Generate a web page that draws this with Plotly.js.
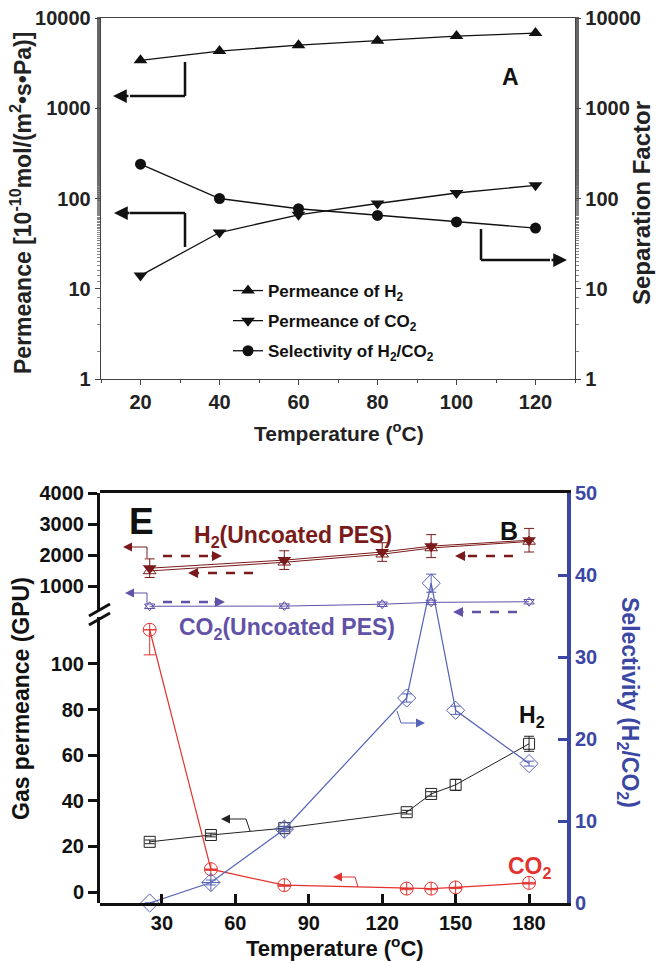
<!DOCTYPE html>
<html><head><meta charset="utf-8">
<script src="https://cdn.plot.ly/plotly-3.0.1.min.js"></script>
<style>html,body{margin:0;padding:0;background:#fff}</style>
</head><body><div id="chart" style="width:657px;height:963px"></div>
<script>
// ---------- Panel A data ----------
const tempA = [20, 40, 60, 80, 100, 120];
const permH2A = [3400, 4300, 5000, 5600, 6300, 6800];
const permCO2A = [14, 42, 66, 88, 115, 140];
const selA = [240, 100, 77, 65, 55, 47];
const logTickVals = [1, 10, 100, 1000, 10000];
const logTickText = ['1', '10', '100', '1000', '10000'];
const tempTicksA = [20, 40, 60, 80, 100, 120];

// ---------- Panel B data ----------
const tempB = [25, 50, 80, 130, 140, 150, 180];
const h2Coated = [22, 25, 28, 35, 43, 47, 65];
const h2CoatedErr = [0.8, 0.8, 0.8, 0.8, 1, 2.4, 3.3];
const co2Coated = [115, 10, 3, 1.5, 1.5, 2, 4];
const co2CoatedErrMinus = [11, 0.5, 0.5, 0.5, 0.5, 0.5, 0.5];
const selB = [0, 2.5, 9, 25, 39, 23.5, 17];
const selBErr = [0, 0.3, 0.3, 0.5, 1.1, 0.5, 0.3];
const tempUncoated = [25, 80, 120, 140, 180];
const h2Uncoated = [1580, 1840, 2100, 2290, 2480];
const h2UncoatedRepeat = [1490, 1770, 2030, 2230, 2440];
const h2UncoatedErr = [300, 300, 300, 370, 380];
const co2Uncoated = [355, 360, 420, 480, 500];
const tempTicksB = [30, 60, 90, 120, 150, 180];
const lowTicks = [0, 20, 40, 60, 80, 100];
const highTicks = [1000, 2000, 3000, 4000];
const selTicks = [0, 10, 20, 30, 40, 50];

// ---------- helpers (pixel -> paper) ----------
const W = 657, H = 963;
const X = p => p / W;
const Y = p => 1 - p / H;
const FONT = 'Arial, "Liberation Sans", sans-serif';
const DR = '#7a1a1a', BL = '#3b47a3', SB = '#5563b8', RD = '#e2332f', PU = '#6152a8';

const traces = [
  // Panel A
  {x: tempA, y: permH2A, xaxis: 'x', yaxis: 'y', mode: 'lines+markers', name: 'Permeance of H<sub>2</sub>',
   legendgroup: 'a', line: {color: '#111', width: 1.3}, marker: {symbol: 'triangle-up', size: 12, color: '#111'}},
  {x: tempA, y: permCO2A, xaxis: 'x', yaxis: 'y', mode: 'lines+markers', name: 'Permeance of CO<sub>2</sub>',
   legendgroup: 'b', line: {color: '#111', width: 1.3}, marker: {symbol: 'triangle-down', size: 12, color: '#111'}},
  {x: tempA, y: selA, xaxis: 'x', yaxis: 'y2', mode: 'lines+markers', name: 'Selectivity of H<sub>2</sub>/CO<sub>2</sub>',
   legendgroup: 'c', line: {color: '#111', width: 1.3}, marker: {symbol: 'circle', size: 11, color: '#111'}},
  // Panel B upper segment
  {x: tempUncoated, y: h2UncoatedRepeat, xaxis: 'x2', yaxis: 'y4', mode: 'lines+markers', showlegend: false,
   line: {color: DR, width: 1}, marker: {symbol: 'triangle-up-open', size: 11, color: DR, line: {width: 1}}},
  {x: tempUncoated, y: h2Uncoated, xaxis: 'x2', yaxis: 'y4', mode: 'lines+markers', showlegend: false,
   line: {color: DR, width: 1}, marker: {symbol: 'triangle-down', size: 12, color: DR},
   error_y: {type: 'data', array: h2UncoatedErr, color: DR, thickness: 1, width: 5}},
  {x: tempUncoated, y: co2Uncoated, xaxis: 'x2', yaxis: 'y4', mode: 'markers', showlegend: false,
   marker: {symbol: 'triangle-down-open', size: 9, color: PU, line: {width: 1}}},
  {x: tempUncoated, y: co2Uncoated, xaxis: 'x2', yaxis: 'y4', mode: 'lines+markers', showlegend: false,
   line: {color: PU, width: 1}, marker: {symbol: 'triangle-up-open', size: 9, color: PU, line: {width: 1}}},
  // Panel B lower segment
  {x: tempB, y: h2Coated, xaxis: 'x2', yaxis: 'y3', mode: 'lines+markers', showlegend: false, cliponaxis: false,
   line: {color: '#222', width: 1}, marker: {symbol: 'square-open', size: 11, color: '#222', line: {width: 1}},
   error_y: {type: 'data', array: h2CoatedErr, color: '#222', thickness: 1, width: 5}},
  {x: tempB, y: co2Coated, xaxis: 'x2', yaxis: 'y3', mode: 'lines+markers', showlegend: false, cliponaxis: false,
   line: {color: RD, width: 1.2}, marker: {symbol: 'circle-cross-open', size: 13, color: RD, line: {width: 1}},
   error_y: {type: 'data', symmetric: false, array: [0, 0, 0, 0, 0, 0, 0], arrayminus: co2CoatedErrMinus, color: RD, thickness: 1, width: 6}},
  // Panel B selectivity (right axis)
  {x: tempB, y: selB, xaxis: 'x2', yaxis: 'y5', mode: 'lines+markers', showlegend: false, cliponaxis: false,
   line: {color: SB, width: 1.2},
   marker: {symbol: ['diamond-open', 'diamond-cross-open', 'diamond-cross-open', 'diamond-open', 'diamond-open', 'diamond-open', 'diamond-open'],
            size: 14, color: SB, line: {width: 1}},
   error_y: {type: 'data', array: selBErr, color: SB, thickness: 1, width: 5}}
];

const tickFontA = {family: FONT, size: 20, color: '#222', weight: 'bold'};
const tickFontB = {family: FONT, size: 20, color: '#111', weight: 'bold'};

const shapes = [];
const annotations = [];
function seg(x0, y0, x1, y1, color, width, dash) {
  shapes.push({type: 'line', xref: 'paper', yref: 'paper', x0: X(x0), y0: Y(y0), x1: X(x1), y1: Y(y1),
    line: {color: color, width: width, dash: dash || 'solid'}});
}
function head(tx, ty, fx, fy, color, width, size) {
  annotations.push({xref: 'paper', yref: 'paper', x: X(tx), y: Y(ty), ax: fx - tx, ay: fy - ty, axref: 'pixel', ayref: 'pixel',
    text: '', showarrow: true, arrowhead: 2, arrowsize: size || 1, arrowwidth: width, arrowcolor: color});
}
function label(px, py, text, size, color, angle, anchor) {
  annotations.push({xref: 'paper', yref: 'paper', x: X(px), y: Y(py), text: text, showarrow: false,
    textangle: angle || 0, xanchor: anchor || 'center', yanchor: 'middle',
    font: {family: FONT, size: size, color: color, weight: 'bold'}});
}

// Panel A arrows
seg(185, 62, 185, 96, '#111', 2.5); seg(185, 96, 130, 96, '#111', 2.5); head(113, 96, 130, 96, '#111', 2.5, 1.1);
seg(185, 247, 185, 213, '#111', 2.5); seg(185, 213, 130, 213, '#111', 2.5); head(114, 213, 131, 213, '#111', 2.5, 1.1);
seg(481, 229, 481, 260, '#111', 2.5); seg(481, 260, 550, 260, '#111', 2.5); head(567, 260, 550, 260, '#111', 2.5, 1.1);

// Panel B arrows
seg(147, 558, 147, 547, DR, 1); seg(147, 547, 132, 547, DR, 1); head(123, 547, 133, 547, DR, 1.5, 1.2);
seg(163, 556, 212, 556, DR, 2.5, 'dash'); head(222, 556, 210, 556, DR, 2, 1);
seg(253, 573, 198, 573, DR, 2.5, 'dash'); head(188, 573, 200, 573, DR, 2, 1);
seg(513, 556, 465, 556, DR, 2.5, 'dash'); head(455, 556, 467, 556, DR, 2, 1);
seg(147, 604, 147, 593, PU, 1); seg(147, 593, 134, 593, PU, 1); head(125, 593, 135, 593, PU, 1.5, 1.2);
seg(163, 602, 215, 602, PU, 2.5, 'dash'); head(225, 602, 213, 602, PU, 2, 1);
seg(517, 612, 463, 612, PU, 2.5, 'dash'); head(453, 612, 465, 612, PU, 2, 1);
seg(250, 831, 246, 819, '#222', 1); seg(246, 819, 230, 819, '#222', 1); head(221, 819, 231, 819, '#222', 1.5, 1.2);
seg(397, 711, 401, 723, SB, 1); seg(401, 723, 415, 723, SB, 1); head(425, 723, 414, 723, SB, 1.5, 1.2);
seg(358, 887, 355, 877, RD, 1); seg(355, 877, 342, 877, RD, 1); head(333, 877, 343, 877, RD, 1.5, 1.2);

// axis break
seg(89, 616, 110, 604, '#111', 3); seg(89, 625, 110, 613, '#111', 3);

// Text labels
label(510, 77, 'A', 23, '#111');
label(21, 203, 'Permeance [10<sup>-10</sup>mol/(m<sup>2</sup>•s•Pa)]', 23, '#222', -90);
label(641, 203, 'Separation Factor', 24, '#222', -90);
label(339, 432, 'Temperature (<sup>o</sup>C)', 21, '#222');
label(141, 521, 'E', 37, '#111');
label(509, 531, 'B', 25, '#111');
label(192, 536, 'H<sub>2</sub>(Uncoated PES)', 23, DR, 0, 'left');
label(177, 628, 'CO<sub>2</sub>(Uncoated PES)', 23, PU, 0, 'left');
label(517, 716, 'H<sub>2</sub>', 23, '#111', 0, 'left');
label(506, 867, 'CO<sub>2</sub>', 23, RD, 0, 'left');
label(21, 699, 'Gas permeance (GPU)', 23, '#111', -90);
label(629, 702, 'Selectivity (H<sub>2</sub>/CO<sub>2</sub>)', 23, BL, 90);
label(335, 947, 'Temperature (<sup>o</sup>C)', 22, '#111');

const layout = {
  width: W, height: H, margin: {l: 0, r: 0, t: 0, b: 0},
  paper_bgcolor: '#fff', plot_bgcolor: 'rgba(0,0,0,0)',
  font: {family: FONT},
  showlegend: true,
  legend: {x: X(228), y: Y(273), xanchor: 'left', yanchor: 'top', bgcolor: 'rgba(0,0,0,0)',
           font: {family: FONT, size: 17, color: '#111', weight: 'bold'}, tracegroupgap: 5, itemwidth: 30},
  // Panel A
  xaxis: {domain: [X(101), X(575)], range: [10, 130], anchor: 'y', tickvals: tempTicksA, ticks: 'outside', ticklen: 5,
          tickcolor: '#444', showline: true, linecolor: '#444', linewidth: 1.3, mirror: true, showgrid: false, zeroline: false,
          tickfont: tickFontA, minor: {dtick: 10, tick0: 10, ticks: 'outside', ticklen: 3, tickcolor: '#444'}},
  yaxis: {domain: [Y(379), Y(18)], type: 'log', range: [0, 4], anchor: 'x', tickvals: logTickVals, ticktext: logTickText,
          ticks: 'outside', ticklen: 5, tickcolor: '#444', showline: true, linecolor: '#444', linewidth: 1.3, showgrid: false,
          zeroline: false, tickfont: tickFontA, minor: {ticks: 'outside', ticklen: 3, tickcolor: '#666', tickwidth: 0.8}},
  yaxis2: {type: 'log', range: [0, 4], overlaying: 'y', side: 'right', anchor: 'x', tickvals: logTickVals, ticktext: logTickText,
          ticks: 'outside', ticklen: 5, tickcolor: '#444', showline: true, linecolor: '#444', linewidth: 1.3, showgrid: false,
          zeroline: false, tickfont: tickFontA, minor: {ticks: 'outside', ticklen: 3, tickcolor: '#666', tickwidth: 0.8}},
  // Panel B
  xaxis2: {domain: [X(100), X(567)], range: [4.7, 195.5], anchor: 'y5', tickvals: tempTicksB, ticks: 'inside', ticklen: 9,
          tickwidth: 3, tickcolor: '#111', showline: true, linecolor: '#111', linewidth: 3, mirror: true, showgrid: false,
          zeroline: false, tickfont: tickFontB},
  yaxis3: {domain: [Y(903), Y(617)], range: [-4.82, 120.6], anchor: 'x2', tickvals: lowTicks, ticks: 'outside', ticklen: 9,
          tickwidth: 3, tickcolor: '#111', showline: true, linecolor: '#111', linewidth: 3, showgrid: false, zeroline: false,
          tickfont: tickFontB},
  yaxis4: {domain: [Y(611), Y(493)], range: [202, 4000], anchor: 'x2', tickvals: highTicks, ticks: 'outside', ticklen: 9,
          tickwidth: 3, tickcolor: '#111', showline: true, linecolor: '#111', linewidth: 3, showgrid: false, zeroline: false,
          tickfont: tickFontB},
  yaxis5: {domain: [Y(903), Y(493)], range: [0, 50], anchor: 'x2', side: 'right', tickvals: selTicks, ticks: 'inside', ticklen: 9,
          tickwidth: 3, tickcolor: BL, showline: true, linecolor: BL, linewidth: 4, showgrid: false, zeroline: false,
          tickfont: {family: FONT, size: 20, color: BL, weight: 'bold'}},
  shapes: shapes,
  annotations: annotations
};

Plotly.newPlot('chart', traces, layout, {displayModeBar: false, staticPlot: true});
</script>
</body></html>
